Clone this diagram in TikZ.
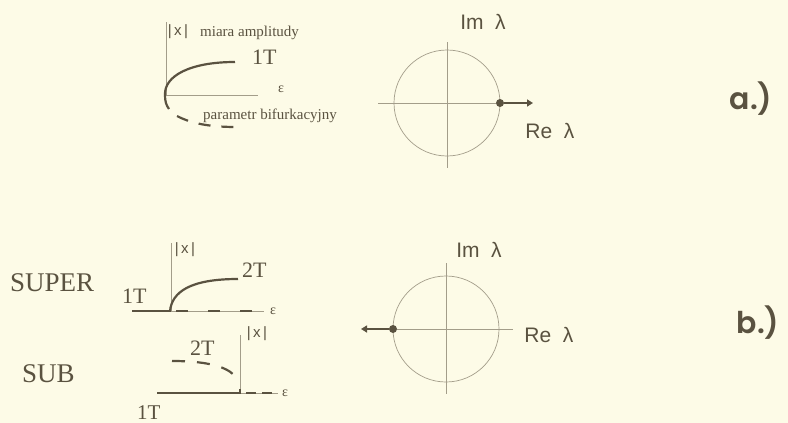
\documentclass[tikz,border=0pt]{standalone}
\usepackage{fontspec}
\setmainfont{Liberation Serif}
\setsansfont{Liberation Sans}
\newfontfamily\gothic{Poppins SemiBold}
\usepackage{xcolor}
\usepackage{tikz}
\usetikzlibrary{arrows.meta,positioning}
\definecolor{ink}{HTML}{5A5240}
\definecolor{hair}{HTML}{A39D8A}
\definecolor{paper}{HTML}{FDFBE7}
\tikzset{
  axis/.style={hair,line width=0.7pt},
  branch/.style={ink,line width=2.2pt},
  unstable/.style={ink,line width=2.2pt,dash pattern=on 12pt off 11pt},
  eigen/.style={circle,fill=ink,inner sep=0pt,minimum size=8pt},
  push/.style={ink,line width=2.2pt,-{Triangle[length=6pt,width=7pt]}},
  lbl/.style={ink,inner sep=0pt},
  tag/.style={ink,inner sep=0pt,font=\gothic\fontsize{30}{30}\selectfont}
}
\begin{document}
\begin{tikzpicture}[x=1pt,y=-1pt]
\fill[paper] (0,0) rectangle (788,423); \useasboundingbox (0,0) rectangle (788,423);
\draw[axis] (166,22)--(166,95); \draw[axis] (166,95)--(258,95);
\draw[branch] (235,62) .. controls (190,62) and (164,76) .. (165,95) .. controls (165,101) and (166,105) .. (169,109);
\draw[unstable] (177,116) .. controls (192,124) and (212,127) .. (236,127);
\node[lbl,anchor=center,font=\sffamily\fontsize{15}{15}\selectfont] (ampa) at (178,32) {|\,x\,|};
\node[lbl,anchor=base west,font=\fontsize{15}{15}\selectfont] (miara) at (200,36) {miara amplitudy};
\node[lbl,anchor=base west,font=\fontsize{22}{22}\selectfont] (onea) at (252,64) {1T};
\node[lbl,anchor=center,font=\fontsize{14}{14}\selectfont] (epsa) at (281,89) {ε};
\node[lbl,anchor=base west,font=\fontsize{15}{15}\selectfont] (param) at (203,119) {parametr bifurkacyjny};
\draw[axis] (447,103) circle (53); \draw[axis] (447,42)--(447,168);
\node[eigen] (dota) at (500,103) {}; \coordinate (tipa) at (533,103);
\draw[axis] (378,103)--(dota); \draw[push] (dota)--(tipa);
\node[lbl,anchor=center,font=\sffamily\fontsize{21}{21}\selectfont] (ima) at (483,22) {Im\ \ λ};
\node[lbl,anchor=center,font=\sffamily\fontsize{21}{21}\selectfont] (rea) at (550,131) {Re\ \ λ};
\node[tag] (taga) at (751,99) {a.)};
\node[lbl,anchor=base west,font=\fontsize{27}{27}\selectfont] (super) at (10,291) {SUPER};
\draw[axis] (171,243)--(171,311); \draw[axis] (171,311)--(264,311);
\draw[branch] (132,311)--(171,311); \draw[branch] (170,311) .. controls (172,292) and (190,279) .. (238,279);
\draw[unstable,dash pattern=on 12pt off 20pt] (176,311)--(254,311);
\node[lbl,anchor=base west,font=\fontsize{22}{22}\selectfont] (onesup) at (122,303) {1T};
\node[lbl,anchor=center,font=\sffamily\fontsize{15}{15}\selectfont] (ampsup) at (185,250) {|\,x\,|};
\node[lbl,anchor=base west,font=\fontsize{22}{22}\selectfont] (twosup) at (242,277) {2T};
\node[lbl,anchor=center,font=\fontsize{14}{14}\selectfont] (epssup) at (273,311) {ε};
\node[lbl,anchor=base west,font=\fontsize{27}{27}\selectfont] (sub) at (22,382) {SUB};
\draw[axis] (240,335)--(240,393); \draw[axis] (240,393)--(278,393);
\draw[branch] (157,393)--(240,393)--(240,389);
\draw[unstable,dash pattern=on 13pt off 12pt] (172,361) .. controls (205,361) and (225,366) .. (234,375);
\draw[unstable,dash pattern=on 10pt off 6pt] (246,393)--(274,393);
\node[lbl,anchor=base west,font=\fontsize{22}{22}\selectfont] (twosub) at (190,355) {2T};
\node[lbl,anchor=center,font=\sffamily\fontsize{15}{15}\selectfont] (ampsub) at (257,334) {|\,x\,|};
\node[lbl,anchor=center,font=\fontsize{14}{14}\selectfont] (epssub) at (285,393) {ε};
\node[lbl,anchor=base west,font=\fontsize{21}{21}\selectfont] (onesub) at (137,419) {1T};
\draw[axis] (446,329) circle (53); \draw[axis] (446,263)--(446,394);
\node[eigen] (dotb) at (393,329) {}; \coordinate (tipb) at (361,329);
\draw[axis] (dotb)--(513,329); \draw[push] (dotb)--(tipb);
\node[lbl,anchor=center,font=\sffamily\fontsize{21}{21}\selectfont] (imb) at (479,250) {Im\ \ λ};
\node[lbl,anchor=center,font=\sffamily\fontsize{21}{21}\selectfont] (reb) at (549,335) {Re\ \ λ};
\node[tag] (tagb) at (758,323) {b.)};
\end{tikzpicture}
\end{document}
